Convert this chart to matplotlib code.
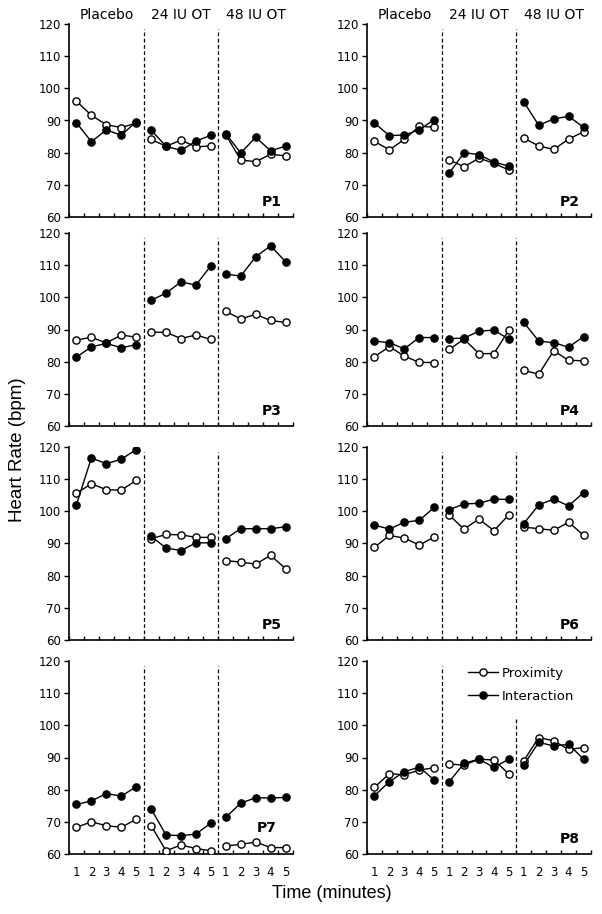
import matplotlib
matplotlib.use("Agg")
import matplotlib.pyplot as plt
import numpy as np

plt.rcParams['font.family'] = ['DejaVu Sans']

conditions = ["Placebo", "24 IU OT", "48 IU OT"]
minutes = [1, 2, 3, 4, 5]
participants = ["P1", "P2", "P3", "P4", "P5", "P6", "P7", "P8"]

# Proximity (open circles): Placebo, 24 IU OT, 48 IU OT (5 minutes each)
prox_P1 = [96.0, 91.6, 88.7, 87.8, 89.2, 84.1, 82.0, 83.9, 81.8, 82.1, 85.6, 77.7, 77.2, 79.5, 79.0]
prox_P2 = [83.5, 80.9, 84.1, 88.2, 87.9, 77.8, 75.6, 78.3, 76.7, 74.6, 84.5, 82.1, 81.0, 84.2, 86.5]
prox_P3 = [86.7, 87.6, 85.8, 88.3, 87.6, 89.2, 89.1, 87.2, 88.3, 86.9, 95.6, 93.3, 94.7, 92.8, 92.2]
prox_P4 = [81.5, 84.7, 81.7, 79.8, 79.7, 83.8, 87.0, 82.5, 82.5, 89.8, 77.3, 76.1, 83.4, 80.4, 80.3]
prox_P5 = [105.6, 108.6, 106.7, 106.6, 109.6, 91.5, 92.8, 92.7, 91.9, 91.9, 84.7, 84.2, 83.6, 86.3, 82.2]
prox_P6 = [88.8, 92.5, 91.7, 89.5, 92.0, 98.8, 94.5, 97.6, 94.0, 98.9, 95.1, 94.6, 94.1, 96.6, 92.6]
prox_P7 = [68.3, 70.0, 68.8, 68.3, 70.8, 68.8, 61.0, 62.8, 61.7, 61.0, 62.5, 63.0, 63.7, 62.0, 62.0]
prox_P8 = [80.7, 85.0, 84.6, 86.1, 86.8, 88.0, 87.6, 89.5, 89.2, 84.9, 89.0, 96.2, 95.2, 92.5, 93.1]

# Interaction (filled circles)
inter_P1 = [89.3, 83.4, 87.1, 85.4, 89.6, 87.0, 82.0, 80.7, 83.6, 85.4, 85.9, 79.9, 84.8, 80.6, 82.0]
inter_P2 = [89.2, 85.3, 85.5, 87.1, 90.3, 73.6, 80.0, 79.4, 77.1, 75.8, 95.8, 88.5, 90.5, 91.3, 87.9]
inter_P3 = [81.4, 84.6, 85.7, 84.3, 85.3, 99.1, 101.3, 104.8, 103.8, 109.8, 107.2, 106.6, 112.6, 116.0, 111.1]
inter_P4 = [86.4, 85.9, 84.0, 87.5, 87.5, 87.2, 87.3, 89.5, 89.8, 87.0, 92.2, 86.4, 85.9, 84.5, 87.8]
inter_P5 = [102.1, 116.6, 114.8, 116.2, 119.2, 92.2, 88.6, 87.8, 90.2, 90.2, 91.5, 94.6, 94.6, 94.6, 95.2]
inter_P6 = [95.7, 94.5, 96.6, 97.2, 101.2, 100.5, 102.3, 102.5, 103.8, 103.7, 96.2, 102.0, 103.8, 101.7, 105.8]
inter_P7 = [75.4, 76.5, 78.8, 78.0, 80.9, 74.0, 65.9, 65.7, 66.2, 69.6, 71.4, 75.8, 77.5, 77.4, 77.6]
inter_P8 = [78.1, 82.5, 85.6, 87.0, 83.0, 82.4, 88.2, 89.5, 86.9, 89.5, 87.7, 94.7, 93.6, 94.1, 89.5]

proximity = [prox_P1, prox_P2, prox_P3, prox_P4, prox_P5, prox_P6, prox_P7, prox_P8]
interaction = [inter_P1, inter_P2, inter_P3, inter_P4, inter_P5, inter_P6, inter_P7, inter_P8]

yticks = [60, 70, 80, 90, 100, 110, 120]

W, H = 602, 914
fig = plt.figure(figsize=(W / 100, H / 100), dpi=100)

col_left = [69, 367]
col_width = 224
row_top = [24, 233, 447, 661]
row_h = 193

n_cond = len(conditions)
n_min = len(minutes)

for idx, name in enumerate(participants):
    r, c = divmod(idx, 2)
    x0 = col_left[c] / W
    y0 = 1 - (row_top[r] + row_h) / H
    ax = fig.add_axes([x0, y0, col_width / W, row_h / H])

    for k in range(n_cond):
        xs = np.arange(n_min) + 1 + k * n_min
        seg = slice(k * n_min, (k + 1) * n_min)
        ax.plot(xs, proximity[idx][seg], color='black', lw=1.0, marker='o',
                ms=5.2, mfc='white', mec='black', mew=1.0, zorder=3,
                label='Proximity' if k == 0 else None)
        ax.plot(xs, interaction[idx][seg], color='black', lw=1.0, marker='o',
                ms=5.2, mfc='black', mec='black', mew=1.0, zorder=4,
                label='Interaction' if k == 0 else None)

    # dashed dividers between conditions
    for k in range(1, n_cond):
        top = 118.5
        if name == "P8" and k == 2:
            top = 102.5
        ax.plot([k * n_min + 0.5] * 2, [60, top], color='black', lw=0.9,
                ls=(0, (3, 2)), zorder=1)

    ax.set_xlim(0.5, n_cond * n_min + 0.5)
    ax.set_ylim(60, 120)
    ax.set_yticks(yticks)
    ax.set_xticks(np.arange(0.5, n_cond * n_min + 1, 1.0))
    ax.set_xticklabels([])
    ax.tick_params(axis='x', direction='in', length=3, width=1, bottom=True)
    ax.tick_params(axis='y', direction='out', length=3.5, width=1, labelsize=8.5, pad=2)
    for s in ['top', 'right']:
        ax.spines[s].set_visible(False)
    for s in ['left', 'bottom']:
        ax.spines[s].set_linewidth(1.2)

    if r == 3:
        for k in range(n_cond):
            for i, m in enumerate(minutes):
                ax.text(1 + k * n_min + i, -0.06, str(m), transform=ax.get_xaxis_transform(),
                        ha='center', va='top', fontsize=8.5)

    if r == 0:
        for k, cond in enumerate(conditions):
            ax.text(k * n_min + 3, 1.012, cond, transform=ax.get_xaxis_transform(),
                    ha='center', va='bottom', fontsize=10)

    if name == "P7":
        ax.text(14.4, 68.0, name, ha='right', va='center', fontsize=10, fontweight='bold')
    else:
        ax.text(14.75, 64.6, name, ha='right', va='center', fontsize=10, fontweight='bold')

    if name == "P8":
        handles, labels = ax.get_legend_handles_labels()
        ax.legend(handles, labels,
                  loc='upper left', bbox_to_anchor=(0.45, 0.97), frameon=False,
                  fontsize=9.5, handlelength=2.3, handletextpad=0.3,
                  labelspacing=0.75, borderpad=0, borderaxespad=0)

fig.text(18 / W, 1 - 450 / H, "Heart Rate (bpm)", rotation=90, ha='center', va='center',
         fontsize=13.5, family=['Liberation Sans', 'DejaVu Sans'])
fig.text(332 / W, 1 - 893 / H, "Time (minutes)", ha='center', va='center',
         fontsize=13, family=['Liberation Sans', 'DejaVu Sans'])

fig.savefig("out.png", dpi=100)
